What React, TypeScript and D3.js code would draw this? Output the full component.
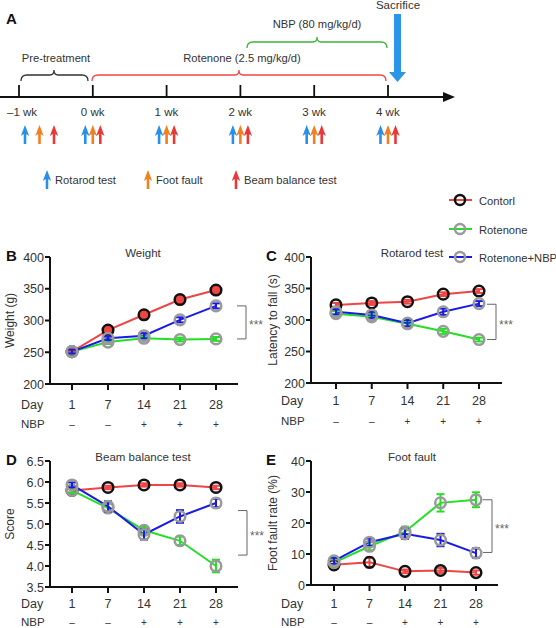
import React from 'react';
import * as d3 from 'd3';

// ---------- DATA ----------
const days = ['1', '7', '14', '21', '28'];
const nbpMarks = ['–', '–', '+', '+', '+'];
const seriesNames = ['Contorl', 'Rotenone', 'Rotenone+NBP'];

const weightControl = [251, 285, 309, 333, 348];
const weightRotenone = [251, 266, 272, 270, 271];
const weightRotNBP = [251, 272, 276, 301, 323];
const weightErrControl = [3, 3, 3, 3, 3];
const weightErrRotenone = [3, 3, 3, 3, 3];
const weightErrRotNBP = [3, 3, 4, 4, 4];

const rotarodControl = [324, 327, 329, 341, 346];
const rotarodRotenone = [310, 305, 294, 282, 269];
const rotarodRotNBP = [313, 308, 295, 313, 326];
const rotarodErrControl = [3, 3, 3, 3, 3];
const rotarodErrRotenone = [4, 5, 5, 4, 3];
const rotarodErrRotNBP = [4, 5, 5, 5, 4];

const beamControl = [5.8, 5.87, 5.93, 5.93, 5.87];
const beamRotenone = [5.8, 5.38, 4.85, 4.6, 4.0];
const beamRotNBP = [5.93, 5.42, 4.75, 5.18, 5.5];
const beamErrControl = [0.05, 0.04, 0.04, 0.04, 0.04];
const beamErrRotenone = [0.06, 0.1, 0.08, 0.1, 0.15];
const beamErrRotNBP = [0.06, 0.12, 0.12, 0.15, 0.1];

const footControl = [6.5, 7.3, 4.4, 4.7, 4.0];
const footRotenone = [7.2, 12.5, 17.2, 26.5, 27.5];
const footRotNBP = [7.8, 13.8, 16.5, 14.5, 10.3];
const footErrControl = [1.2, 1.6, 0.6, 0.8, 0.7];
const footErrRotenone = [1.0, 1.3, 1.6, 2.8, 2.4];
const footErrRotNBP = [1.0, 1.2, 1.6, 2.0, 1.5];

const weightTicks = [200, 250, 300, 350, 400];
const rotarodTicks = [200, 250, 300, 350, 400];
const beamTicks = [3.5, 4.0, 4.5, 5.0, 5.5, 6.0, 6.5];
const footTicks = [0, 10, 20, 30, 40];

const timelineWeeks = [-1, 0, 1, 2, 3, 4];
const timelineLabels = ['–1 wk', '0 wk', '1 wk', '2 wk', '3 wk', '4 wk'];
const testNames = ['Rotarod test', 'Foot fault', 'Beam balance test'];

// ---------- STYLE ----------
const FONT = 'Arial, "Liberation Sans", Helvetica, sans-serif';
const RED = '#f04545';
const GREEN = '#22e022';
const BLUE = '#1a1ae6';
const GRAY = '#9a9a9a';
const TXT = '#333';
const testColors = ['#2a8fe6', '#f08020', '#e83838'];

type Series = { values: number[]; err: number[]; line: string; ring: string; fill: string };

interface PanelProps {
  letter: string;
  title: string;
  titleX: number;
  ylabel: string;
  ylabelX: number;
  xAxis: [number, number];
  xPts: [number, number];
  yDomain: [number, number];
  yRange: [number, number];
  ticks: number[];
  fmt: (v: number) => string;
  series: Series[];
  bracket: [number, number];
  bracketX: number;
  dayY: number;
  nbpY: number;
  labelX: number;
}

const Panel: React.FC<PanelProps> = (p) => {
  const x = d3.scalePoint<string>().domain(days).range(p.xPts);
  const y = d3.scaleLinear().domain(p.yDomain).range(p.yRange);
  const line = d3
    .line<number>()
    .x((_, i) => x(days[i]) as number)
    .y((d) => y(d));
  const x0 = p.xAxis[0];
  const yTop = p.yRange[1];
  const yBot = p.yRange[0];
  const b1 = y(p.bracket[0]);
  const b2 = y(p.bracket[1]);
  return (
    <g fontFamily={FONT}>
      <text x={p.labelX} y={yTop + 4} fontSize={15} fontWeight="bold" fill="#111">
        {p.letter}
      </text>
      <text x={p.titleX} y={yTop} fontSize={11.5} fill={TXT} textAnchor="middle">
        {p.title}
      </text>
      <text
        transform={`translate(${p.ylabelX},${(yTop + yBot) / 2}) rotate(-90)`}
        fontSize={12}
        fill={TXT}
        textAnchor="middle"
      >
        {p.ylabel}
      </text>
      {/* axes */}
      <line x1={x0} x2={x0} y1={yTop} y2={yBot + 1} stroke="#111" strokeWidth={2} />
      <line x1={x0 - 1} x2={p.xAxis[1]} y1={yBot} y2={yBot} stroke="#111" strokeWidth={2} />
      {p.ticks.map((t) => (
        <g key={t}>
          <line x1={x0 - 5} x2={x0} y1={y(t)} y2={y(t)} stroke="#111" strokeWidth={2} />
          <text x={x0 - 6} y={y(t) + 4.5} fontSize={12.5} fill={TXT} textAnchor="end">
            {p.fmt(t)}
          </text>
        </g>
      ))}
      {days.map((d, i) => (
        <g key={d}>
          <line x1={x(d)} x2={x(d)} y1={yBot} y2={yBot + 6} stroke="#111" strokeWidth={2} />
          <text x={x(d)} y={p.dayY} fontSize={12.5} fill={TXT} textAnchor="middle">
            {d}
          </text>
          <text x={x(d)} y={p.nbpY} fontSize={10} fill={TXT} textAnchor="middle">
            {nbpMarks[i]}
          </text>
        </g>
      ))}
      <text x={p.labelX + 15} y={p.dayY} fontSize={12.5} fill={TXT}>Day</text>
      <text x={p.labelX + 15} y={p.nbpY} fontSize={11.5} fill={TXT}>NBP</text>
      {/* lines */}
      {p.series.map((s, k) => (
        <path key={k} d={line(s.values) || ''} fill="none" stroke={s.line} strokeWidth={2} />
      ))}
      {/* error bars + markers */}
      {p.series.map((s, k) => (
        <g key={k}>
          {s.values.map((v, i) => {
            const cx = x(days[i]) as number;
            return (
              <g key={i}>
                <line x1={cx} x2={cx} y1={y(v - s.err[i])} y2={y(v + s.err[i])} stroke={s.line} strokeWidth={2} />
                <line x1={cx - 4} x2={cx + 4} y1={y(v - s.err[i])} y2={y(v - s.err[i])} stroke={s.line} strokeWidth={2} />
                <line x1={cx - 4} x2={cx + 4} y1={y(v + s.err[i])} y2={y(v + s.err[i])} stroke={s.line} strokeWidth={2} />
                <circle cx={cx} cy={y(v)} r={5.3} fill={s.fill} stroke={s.ring} strokeWidth={2.5} />
              </g>
            );
          })}
        </g>
      ))}
      {/* significance bracket */}
      <path
        d={`M${p.bracketX - 9},${b1}H${p.bracketX}V${b2}H${p.bracketX - 9}`}
        fill="none"
        stroke="#666"
        strokeWidth={1}
      />
      <text x={p.bracketX + 3} y={(b1 + b2) / 2 + 7} fontSize={12} fill="#666">***</text>
    </g>
  );
};

const mkSeries = (c: number[], ce: number[], r: number[], re: number[], n: number[], ne: number[], ctrlFill: string): Series[] => [
  { values: c, err: ce, line: RED, ring: '#111', fill: ctrlFill },
  { values: r, err: re, line: GREEN, ring: GRAY, fill: 'none' },
  { values: n, err: ne, line: BLUE, ring: GRAY, fill: 'none' },
];

const TestArrow: React.FC<{ x: number; y: number; color: string }> = ({ x, y, color }) => (
  <path
    d={`M${x},${y} L${x + 4.2},${y + 11} L${x + 1.3},${y + 9} L${x + 1.3},${y + 19} L${x - 1.3},${y + 19} L${x - 1.3},${y + 9} L${x - 4.2},${y + 11} Z`}
    fill={color}
  />
);

const Brace: React.FC<{ x1: number; x2: number; y: number; mid: number; color: string }> = ({ x1, x2, y, mid, color }) => (
  <path
    d={`M${x1},${y + 6} Q${x1},${y} ${x1 + 6},${y} L${mid - 4},${y} Q${mid},${y} ${mid},${y - 5} Q${mid},${y} ${mid + 4},${y} L${x2 - 6},${y} Q${x2},${y} ${x2},${y + 6}`}
    fill="none"
    stroke={color}
    strokeWidth={1.3}
  />
);

export default function App() {
  const tx = d3.scaleLinear().domain([-1, 4]).range([19, 388]);
  const axisY = 97;
  const fmtInt = (v: number) => d3.format('d')(v);
  const fmt1 = (v: number) => d3.format('.1f')(v);

  return (
    <svg width={556} height={628} style={{ position: 'absolute', left: 0, top: 0, background: '#fff' }} fontFamily={FONT}>
      {/* ---------- Panel A ---------- */}
      <text x={6} y={24} fontSize={15} fontWeight="bold" fill="#111">A</text>
      <line x1={0} x2={446} y1={axisY} y2={axisY} stroke="#111" strokeWidth={2.2} />
      <path d={`M443,${axisY - 5} L455,${axisY} L443,${axisY + 5} Z`} fill="#111" />
      {timelineWeeks.map((w, i) => (
        <g key={w}>
          <line x1={tx(w)} x2={tx(w)} y1={85} y2={axisY} stroke="#111" strokeWidth={1.8} />
          <text x={tx(w) - 12} y={116} fontSize={11.5} fill={TXT}>{timelineLabels[i]}</text>
          {w === -1
            ? testColors.map((c, k) => <TestArrow key={k} x={tx(w) + 6 + k * 14.5} y={125} color={c} />)
            : testColors.map((c, k) => <TestArrow key={k} x={tx(w) - 7.5 + k * 7.5} y={125} color={c} />)}
        </g>
      ))}
      <Brace x1={21} x2={88} y={75} mid={54} color="#333" />
      <text x={56} y={62} fontSize={11.2} fill={TXT} textAnchor="middle">Pre-treatment</text>
      <Brace x1={92} x2={386} y={75} mid={239} color={RED} />
      <text x={242} y={62} fontSize={11.2} fill={TXT} textAnchor="middle">Rotenone (2.5 mg/kg/d)</text>
      <Brace x1={247} x2={387} y={42} mid={317} color="#3cb43c" />
      <text x={317} y={28} fontSize={11.2} fill={TXT} textAnchor="middle">NBP (80 mg/kg/d)</text>
      <text x={398} y={9} fontSize={11.5} fill={TXT} textAnchor="middle">Sacrifice</text>
      <path d="M394,14 H401 V72 H406 L397.5,82 L389,72 H394 Z" fill="#2b95e8" />
      {testNames.map((n, k) => {
        const lx = [47, 148, 236][k];
        return (
          <g key={n}>
            <TestArrow x={lx} y={170} color={testColors[k]} />
            <text x={lx + 8} y={184} fontSize={11.2} fill={TXT}>{n}</text>
          </g>
        );
      })}

      {/* ---------- Legend ---------- */}
      {seriesNames.map((n, k) => {
        const ly = [200, 229, 257][k];
        const lc = [RED, GREEN, BLUE][k];
        const rc = ['#111', GRAY, GRAY][k];
        return (
          <g key={n}>
            <line x1={449} x2={472} y1={ly} y2={ly} stroke={lc} strokeWidth={2} />
            <circle cx={460} cy={ly} r={5} fill="none" stroke={rc} strokeWidth={2.5} />
            <text x={479} y={ly + 4.5} fontSize={11.2} fill={TXT}>{n}</text>
          </g>
        );
      })}

      {/* ---------- Panels ---------- */}
      <Panel
        letter="B" title="Weight" titleX={143} ylabel="Weight (g)" ylabelX={14}
        xAxis={[50, 238]} xPts={[72, 216]} yDomain={[200, 400]} yRange={[384, 257]}
        ticks={weightTicks} fmt={fmtInt}
        series={mkSeries(weightControl, weightErrControl, weightRotenone, weightErrRotenone, weightRotNBP, weightErrRotNBP, RED)}
        bracket={[323, 271]} bracketX={246} dayY={409} nbpY={428} labelX={6}
      />
      <Panel
        letter="C" title="Rotarod test" titleX={412} ylabel="Latency to fall (s)" ylabelX={277}
        xAxis={[311, 502]} xPts={[336, 479]} yDomain={[200, 400]} yRange={[383, 257]}
        ticks={rotarodTicks} fmt={fmtInt}
        series={mkSeries(rotarodControl, rotarodErrControl, rotarodRotenone, rotarodErrRotenone, rotarodRotNBP, rotarodErrRotNBP, 'none')}
        bracket={[325, 269]} bracketX={496} dayY={405} nbpY={425} labelX={266}
      />
      <Panel
        letter="D" title="Beam balance test" titleX={143} ylabel="Score" ylabelX={14}
        xAxis={[50, 238]} xPts={[72, 216]} yDomain={[3.5, 6.5]} yRange={[587, 461]}
        ticks={beamTicks} fmt={fmt1}
        series={mkSeries(beamControl, beamErrControl, beamRotenone, beamErrRotenone, beamRotNBP, beamErrRotNBP, 'none')}
        bracket={[5.32, 4.26]} bracketX={247} dayY={608} nbpY={626} labelX={6}
      />
      <Panel
        letter="E" title="Foot fault" titleX={412} ylabel="Foot fault rate (%)" ylabelX={277}
        xAxis={[311, 498]} xPts={[334, 476]} yDomain={[0, 40]} yRange={[585, 461]}
        ticks={footTicks} fmt={fmtInt}
        series={mkSeries(footControl, footErrControl, footRotenone, footErrRotenone, footRotNBP, footErrRotNBP, 'none')}
        bracket={[27.5, 10.5]} bracketX={492} dayY={608} nbpY={626} labelX={266}
      />
    </svg>
  );
}
